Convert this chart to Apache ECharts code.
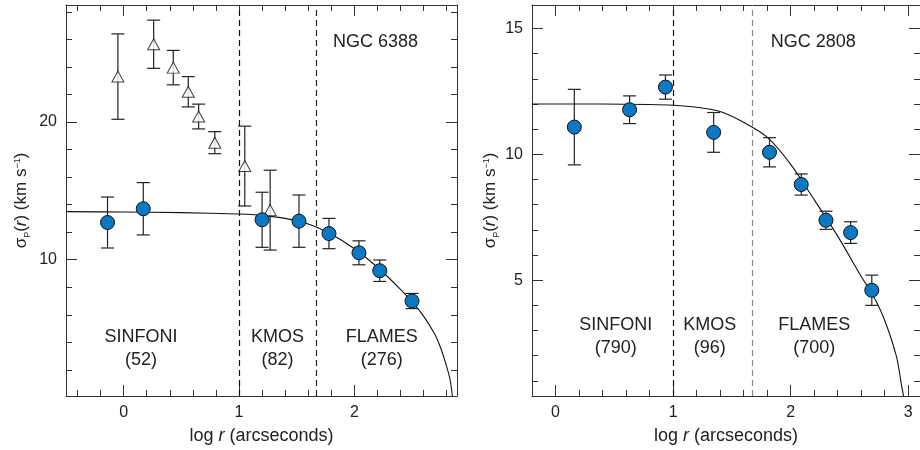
<!DOCTYPE html>
<html><head><meta charset="utf-8">
<script src="https://cdn.jsdelivr.net/npm/echarts@6/dist/echarts.min.js"></script>
<style>html,body{margin:0;padding:0;background:#fff}#c{width:920px;height:450px}</style>
</head><body><div id="c"></div>
<script>
// ---------- data ----------
const ngc6388X = [-0.14, 0.17, 1.20, 1.52, 1.78, 2.04, 2.22, 2.50];
const ngc6388Sigma = [12.7, 13.7, 12.9, 12.8, 11.9, 10.5, 9.2, 7.0];
const ngc6388Err = [1.85, 1.9, 2.0, 1.9, 1.1, 0.87, 0.78, 0.55];
const ngc6388OldX = [-0.05, 0.26, 0.43, 0.56, 0.65, 0.79, 1.05, 1.27];
const ngc6388OldSigma = [23.3, 25.65, 23.95, 22.2, 20.4, 18.5, 16.8, 13.6];
const ngc6388OldErr = [3.1, 1.75, 1.25, 1.1, 0.9, 0.8, 2.9, 2.9];
const ngc6388ModelX = [-0.5, 0.0, 0.5, 1.0, 1.2, 1.4, 1.6, 1.8, 2.0, 2.2, 2.4, 2.5, 2.6, 2.7, 2.75, 2.8, 2.83, 2.85];
const ngc6388ModelY = [13.49, 13.46, 13.42, 13.32, 13.22, 13.0, 12.6, 11.85, 10.8, 9.45, 7.85, 6.95, 5.9, 4.55, 3.55, 2.25, 1.28, 0.1];

const ngc2808X = [0.16, 0.63, 0.935, 1.345, 1.82, 2.09, 2.30, 2.51, 2.69];
const ngc2808Sigma = [11.08, 11.77, 12.67, 10.87, 10.08, 8.8, 7.38, 6.89, 4.6];
const ngc2808Err = [1.5, 0.55, 0.48, 0.79, 0.58, 0.42, 0.36, 0.43, 0.6];
const ngc2808ModelX = [-0.2, 0.4, 0.8, 1.0, 1.2, 1.4, 1.6, 1.8, 2.0, 2.2, 2.4, 2.6, 2.7, 2.8, 2.9, 2.945, 2.96];
const ngc2808ModelY = [12.0, 12.0, 11.98, 11.95, 11.87, 11.7, 11.27, 10.68, 9.6, 8.2, 6.75, 5.15, 4.4, 3.4, 1.96, 0.77, 0.4];

const boundaries = [1.0, 1.67];

// tick labels / tick positions
const leftXMinor = [-0.4,-0.2,0,0.2,0.4,0.6,0.8,1,1.2,1.4,1.6,1.8,2,2.2,2.4,2.6,2.8];
const leftXMajor = [0,1,2];
const leftYMinor = [2,4,6,8,10,12,14,16,18,20,22,24,26,28];
const leftYMajor = [10,20];
const rightXMinor = [0,0.2,0.4,0.6,0.8,1,1.2,1.4,1.6,1.8,2,2.2,2.4,2.6,2.8,3];
const rightXMajor = [0,1,2,3];
const rightYMinor = [1,2,3,4,5,6,7,8,9,10,11,12,13,14,15];
const rightYMajor = [5,10,15];

// text annotations (data coordinates)
const leftNotes = [[0.15, 3.56, 'SINFONI\n(52)'], [1.334, 3.56, 'KMOS\n(82)'], [2.238, 3.56, 'FLAMES\n(276)'], [2.184, 25.81, 'NGC 6388']];
const rightNotes = [[0.513, 2.78, 'SINFONI\n(790)'], [1.311, 2.78, 'KMOS\n(96)'], [2.2, 2.78, 'FLAMES\n(700)'], [2.192, 14.45, 'NGC 2808']];

// ---------- styling ----------
const FONT = '"Liberation Sans", Arial, sans-serif';
const TXT = '#222';
const AX = '#333';
const BLUE = '#0a78c2';

function axis(grid, pos, min, max, ticks, len, labels, lineShow, extra) {
  const a = {
    type: 'value', gridIndex: grid, position: pos, min: min, max: max,
    splitLine: {show: false},
    axisLine: {show: lineShow, onZero: false, lineStyle: {color: AX, width: 1}},
    axisTick: {show: true, inside: true, length: len, customValues: ticks, lineStyle: {color: AX, width: 1}},
    axisLabel: labels ? {show: true, customValues: labels, fontSize: 16, color: TXT, fontFamily: FONT, margin: 9} : {show: false}
  };
  return Object.assign(a, extra || {});
}

const xName = {
  name: 'log {i|r} (arcseconds)', nameLocation: 'middle', nameGap: 31,
  nameTextStyle: {fontSize: 18, color: TXT, fontFamily: FONT, rich: {i: {fontSize: 18, fontStyle: 'italic', color: TXT, fontFamily: FONT}}}
};
function yName(gap) {
  return {
    name: '{n|σ}{sub|P}{n|(}{i|r}{n|) (km s}{sup|−1}{n|)}', nameLocation: 'middle', nameGap: gap, nameRotate: 90,
    nameTextStyle: {fontSize: 17, color: TXT, fontFamily: FONT, rich: {
      n: {fontSize: 17, color: TXT, fontFamily: FONT},
      i: {fontSize: 17, fontStyle: 'italic', color: TXT, fontFamily: FONT},
      sub: {fontSize: 9, color: TXT, fontFamily: FONT, verticalAlign: 'bottom', padding: [0, 0, -2, 0]},
      sup: {fontSize: 9, color: TXT, fontFamily: FONT, verticalAlign: 'top', padding: [0, 0, 6, 0]}
    }}
  };
}

const xAxes = [
  axis(0, 'bottom', -0.5, 2.89, leftXMinor, 6, leftXMajor, true, xName),
  axis(0, 'bottom', -0.5, 2.89, leftXMajor, 11, null, false),
  axis(0, 'top', -0.5, 2.89, leftXMinor, 6, null, true),
  axis(0, 'top', -0.5, 2.89, leftXMajor, 11, null, false),
  axis(1, 'bottom', -0.2, 3.1, rightXMinor, 6, rightXMajor, true, xName),
  axis(1, 'bottom', -0.2, 3.1, rightXMajor, 11, null, false),
  axis(1, 'top', -0.2, 3.1, rightXMinor, 6, null, true),
  axis(1, 'top', -0.2, 3.1, rightXMajor, 11, null, false)
];
const yAxes = [
  axis(0, 'left', 0.1, 28.5, leftYMinor, 6, leftYMajor, true, yName(36)),
  axis(0, 'left', 0.1, 28.5, leftYMajor, 11, null, false),
  axis(0, 'right', 0.1, 28.5, leftYMinor, 6, null, true),
  axis(0, 'right', 0.1, 28.5, leftYMajor, 11, null, false),
  axis(1, 'left', 0.4, 15.93, rightYMinor, 6, rightYMajor, true, yName(33)),
  axis(1, 'left', 0.4, 15.93, rightYMajor, 11, null, false),
  axis(1, 'right', 0.4, 15.93, rightYMinor, 6, null, true),
  axis(1, 'right', 0.4, 15.93, rightYMajor, 11, null, false)
];

function errRender(params, api) {
  const x = api.value(0), lo = api.value(1), hi = api.value(2);
  const a = api.coord([x, lo]), b = api.coord([x, hi]);
  const w = 6.5;
  const st = {stroke: '#222', lineWidth: 1.2};
  return {type: 'group', children: [
    {type: 'line', shape: {x1: a[0], y1: a[1], x2: b[0], y2: b[1]}, style: st},
    {type: 'line', shape: {x1: a[0] - w, y1: a[1], x2: a[0] + w, y2: a[1]}, style: st},
    {type: 'line', shape: {x1: b[0] - w, y1: b[1], x2: b[0] + w, y2: b[1]}, style: st}
  ]};
}
function errSeries(xs, ys, es, ai) {
  return {type: 'custom', xAxisIndex: ai, yAxisIndex: ai, renderItem: errRender, z: 3, silent: true,
    encode: {x: 0, y: [1, 2]},
    data: xs.map((x, i) => [x, ys[i] - es[i], ys[i] + es[i]])};
}
function model(xs, ys, ai, colors) {
  return {type: 'line', xAxisIndex: ai, yAxisIndex: ai, smooth: 0.3, symbol: 'none', z: 2,
    lineStyle: {color: '#111', width: 1.1},
    data: xs.map((x, i) => [x, ys[i]]),
    markLine: {silent: true, symbol: 'none', label: {show: false},
      data: boundaries.map((b, i) => ({xAxis: b, lineStyle: {color: colors[i], type: [6, 4], width: 1.2}}))}};
}
function dots(xs, ys, ai) {
  return {type: 'scatter', xAxisIndex: ai, yAxisIndex: ai, symbol: 'circle', symbolSize: 14, z: 5,
    itemStyle: {color: BLUE, borderColor: '#111', borderWidth: 1, opacity: 1},
    data: xs.map((x, i) => [x, ys[i]])};
}

const option = {
  animation: false,
  backgroundColor: '#fff',
  grid: [
    {left: 66, top: 5, width: 391, height: 391},
    {left: 532, top: 5, width: 390, height: 391}
  ],
  xAxis: xAxes,
  yAxis: yAxes,
  series: [
    model(ngc6388ModelX, ngc6388ModelY, 0, ['#111', '#222']),
    errSeries(ngc6388X, ngc6388Sigma, ngc6388Err, 0),
    errSeries(ngc6388OldX, ngc6388OldSigma, ngc6388OldErr, 0),
    {type: 'scatter', xAxisIndex: 0, yAxisIndex: 0, symbol: 'triangle', symbolSize: [12, 11], z: 5,
      itemStyle: {color: '#fff', borderColor: '#111', borderWidth: 1},
      data: ngc6388OldX.map((x, i) => [x, ngc6388OldSigma[i]])},
    dots(ngc6388X, ngc6388Sigma, 0),
    model(ngc2808ModelX, ngc2808ModelY, 4, ['#111', '#888']),
    errSeries(ngc2808X, ngc2808Sigma, ngc2808Err, 4),
    dots(ngc2808X, ngc2808Sigma, 4)
  ]
};
const chart = echarts.init(document.getElementById('c'), null, {renderer: 'canvas'});
chart.setOption(option);

// annotation text placed through the axes' own scales
function noteElems(arr, ai) {
  return arr.map(n => {
    const p = chart.convertToPixel({xAxisIndex: ai, yAxisIndex: ai}, [n[0], n[1]]);
    return {type: 'text', x: p[0], y: p[1], z: 10, silent: true,
      style: {text: n[2], fill: TXT, font: '18px ' + FONT, lineHeight: 23, align: 'center', verticalAlign: 'middle'}};
  });
}
chart.setOption({graphic: {elements: noteElems(leftNotes, 0).concat(noteElems(rightNotes, 4))}});
</script></body></html>
